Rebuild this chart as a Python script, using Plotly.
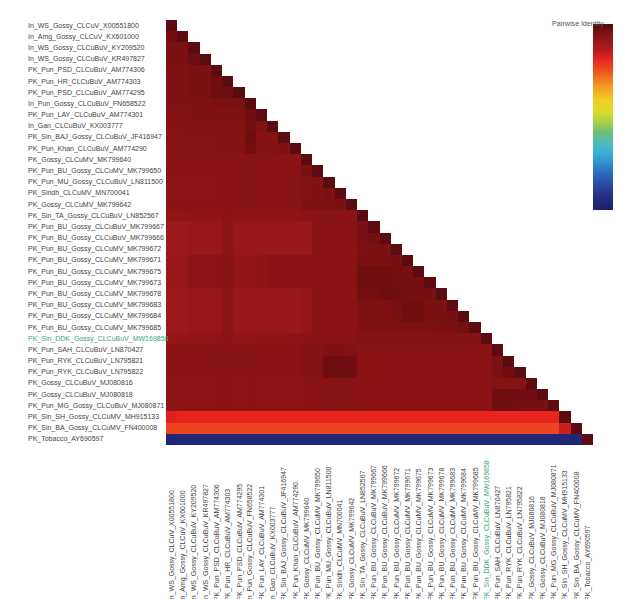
import plotly.graph_objects as go

# ---- labels (rows top->bottom, columns left->right) ----
seq_names = [
    "In_WS_Gossy_CLCuV_X00551800",
    "In_Amg_Gossy_CLCuV_KX601000",
    "In_WS_Gossy_CLCuBuV_KY209520",
    "In_WS_Gossy_CLCuBuV_KR497827",
    "PK_Pun_PSD_CLCuBuV_AM774306",
    "PK_Pun_HR_CLCuBuV_AM774303",
    "PK_Pun_PSD_CLCuBuV_AM774295",
    "In_Pun_Gossy_CLCuBuV_FN658522",
    "PK_Pun_LAY_CLCuBuV_AM774301",
    "In_Gan_CLCuBuV_KX003777",
    "PK_Sin_BAJ_Gossy_CLCuBuV_JF416947",
    "PK_Pun_Khan_CLCuBuV_AM774290",
    "PK_Gossy_CLCuMV_MK799640",
    "PK_Pun_BU_Gossy_CLCuMV_MK799650",
    "PK_Pun_MU_Gossy_CLCuBuV_LN811500",
    "PK_Sindh_CLCuMV_MN700041",
    "PK_Gossy_CLCuMV_MK799642",
    "PK_Sin_TA_Gossy_CLCuBuV_LN852567",
    "PK_Pun_BU_Gossy_CLCuBuV_MK799667",
    "PK_Pun_BU_Gossy_CLCuBuV_MK799666",
    "PK_Pun_BU_Gossy_CLCuMV_MK799672",
    "PK_Pun_BU_Gossy_CLCuMV_MK799671",
    "PK_Pun_BU_Gossy_CLCuMV_MK799675",
    "PK_Pun_BU_Gossy_CLCuMV_MK799673",
    "PK_Pun_BU_Gossy_CLCuMV_MK799678",
    "PK_Pun_BU_Gossy_CLCuMV_MK799683",
    "PK_Pun_BU_Gossy_CLCuMV_MK799684",
    "PK_Pun_BU_Gossy_CLCuMV_MK799685",
    "PK_Sin_DDK_Gossy_CLCuBuV_MW169858",
    "PK_Pun_SAH_CLCuBuV_LN870427",
    "PK_Pun_RYK_CLCuBuV_LN795821",
    "PK_Pun_RYK_CLCuBuV_LN795822",
    "PK_Gossy_CLCuBuV_MJ080816",
    "PK_Gossy_CLCuBuV_MJ080818",
    "PK_Pun_MG_Gossy_CLCuBuV_MJ080871",
    "PK_Sin_SH_Gossy_CLCuMV_MH915133",
    "PK_Sin_BA_Gossy_CLCuMV_FN400008",
    "PK_Tobacco_AY690597",
]
highlight_name = "PK_Sin_DDK_Gossy_CLCuBuV_MW169858"

colorbar_title = "Pairwise identity"
colorbar_ticks = [50, 55, 60, 65, 70, 75, 80, 85, 90, 95, 100]

# ---- pairwise identity (%), lower triangle, row i has i+1 values ----
r0 = [100]
r1 = [99.5, 100]
r2 = [98.5, 98.5, 100]
r3 = [98.5, 98.5, 99.5, 100]
r4 = [98.0, 98.0, 98.5, 98.5, 100]
r5 = [98.0, 98.0, 98.5, 98.5, 99.5, 100]
r6 = [98.0, 98.0, 98.5, 98.5, 99.5, 99.5, 100]
r7 = [98.0, 98.0, 98.0, 98.0, 98.5, 98.5, 98.5, 100]
r8 = [97.8, 97.8, 98.0, 98.0, 98.0, 98.0, 98.0, 99.5, 100]
r9 = [97.6, 97.6, 97.8, 97.8, 97.8, 97.8, 97.8, 99.0, 98.0, 100]
r10 = [97.4, 97.4, 97.5, 97.5, 97.6, 97.6, 97.6, 99.3, 97.6, 97.6, 100]
r11 = [97.3, 97.3, 97.4, 97.4, 97.5, 97.5, 97.5, 99.0, 97.5, 97.5, 98.0, 100]
r12 = [97.2, 97.2, 97.2, 97.3, 97.2, 97.2, 97.2, 97.4, 97.2, 97.2, 97.2, 97.2, 100]
r13 = [97.2, 97.2, 97.2, 97.3, 97.2, 97.2, 97.2, 97.4, 97.2, 97.2, 97.2, 97.2, 98.5, 100]
r14 = [97.0, 97.0, 97.1, 97.1, 97.2, 97.2, 97.2, 97.3, 97.2, 97.2, 97.2, 97.2, 97.8, 98.0, 100]
r15 = [97.0, 97.0, 97.1, 97.1, 97.2, 97.2, 97.2, 97.3, 97.2, 97.2, 97.2, 97.2, 97.8, 98.0, 98.5, 100]
r16 = [97.2, 97.2, 97.2, 97.2, 97.2, 97.2, 97.2, 97.3, 97.2, 97.2, 97.2, 97.2, 98.0, 98.2, 98.2, 98.5, 100]
r17 = [96.6, 96.6, 96.8, 96.8, 96.8, 97.2, 96.8, 96.8, 96.8, 96.8, 96.8, 96.8,
       97.2, 97.2, 97.2, 97.2, 97.2, 100]
r18 = [95.6, 95.6, 95.8, 95.8, 96.0, 97.0, 95.8, 95.8, 95.8, 95.8, 95.8, 96.0,
       96.0, 97.2, 97.2, 97.2, 97.2, 98.5, 100]
r19 = [95.6, 95.6, 95.8, 95.8, 96.0, 97.0, 95.8, 95.8, 95.8, 95.8, 95.8, 96.0,
       96.0, 97.2, 97.2, 97.2, 97.2, 98.5, 99.0, 100]
r20 = [95.6, 95.6, 95.8, 95.8, 96.0, 97.0, 95.8, 95.8, 95.8, 95.8, 95.8, 96.0,
       96.0, 97.2, 97.2, 97.2, 97.2, 98.2, 98.5, 98.5, 100]
r21 = [95.8, 96.0, 97.0, 97.0, 97.2, 97.2, 96.5, 96.5, 96.8, 97.2, 97.2, 97.2,
       97.2, 97.2, 97.2, 97.2, 97.2, 98.5, 98.5, 98.5, 98.8, 100]
r22 = [95.8, 96.0, 97.0, 97.0, 97.2, 97.2, 96.5, 96.5, 96.8, 97.2, 97.2, 97.2,
       97.2, 97.2, 97.2, 97.2, 97.2, 99.3, 99.3, 99.3, 99.0, 98.8, 100]
r23 = [95.8, 96.0, 97.0, 97.0, 97.2, 97.2, 96.5, 96.5, 96.8, 97.2, 97.2, 97.2,
       97.2, 97.2, 97.2, 97.2, 97.2, 99.3, 99.3, 99.3, 99.0, 99.0, 98.8, 100]
r24 = [95.6, 95.6, 95.8, 95.8, 96.0, 97.0, 95.8, 95.8, 95.8, 95.8, 95.8, 96.0,
       96.2, 97.2, 97.2, 97.2, 97.2, 99.0, 99.0, 99.3, 99.3, 99.0, 98.8, 98.8, 100]
r25 = [95.6, 95.6, 95.8, 95.8, 96.0, 97.0, 95.8, 95.8, 95.8, 95.8, 95.8, 96.0,
       96.2, 97.2, 97.2, 97.2, 97.2, 98.2, 98.2, 98.2, 98.8, 99.3, 99.3, 98.5, 98.5, 100]
r26 = [95.6, 95.6, 95.8, 95.8, 96.0, 97.0, 95.8, 95.8, 95.8, 95.8, 95.8, 96.0,
       96.2, 97.2, 97.2, 97.2, 97.2, 98.0, 98.0, 98.0, 98.5, 99.3, 99.3, 98.5, 98.5, 98.8, 100]
r27 = [95.6, 95.6, 95.8, 95.8, 96.0, 97.0, 95.8, 95.8, 95.8, 95.8, 95.8, 96.0,
       96.2, 97.2, 97.2, 97.2, 97.2, 98.0, 98.0, 98.0, 98.2, 98.2, 98.2, 98.2, 98.5, 98.5, 99.0, 100]
r28 = [96.5, 96.5, 96.6, 96.6, 96.8, 97.2, 96.6, 96.6, 96.8, 96.8, 96.8, 97.0,
       97.2, 97.2, 97.2, 97.2, 97.2,
       97.5, 97.5, 97.5, 97.5, 97.5, 97.5, 97.5, 97.5, 97.5, 97.5, 97.5, 100]
r29 = [97.2, 97.2, 97.2, 97.2, 97.4, 97.4, 97.2, 97.3, 97.2, 97.2, 97.2, 97.2, 97.5, 97.5,
       98.0, 98.0, 97.8,
       97.2, 97.2, 97.2, 97.2, 97.2, 97.2, 97.2, 97.2, 97.2, 97.2, 97.2, 97.2, 100]
r30 = [97.2, 97.2, 97.2, 97.2, 97.4, 97.4, 97.2, 97.3, 97.2, 97.2, 97.2, 97.2, 97.5, 97.5,
       99.4, 99.4, 99.2,
       97.2, 97.2, 97.2, 97.2, 97.2, 97.2, 97.2, 97.2, 97.2, 97.2, 97.2, 97.2, 98.5, 100]
r31 = [97.2, 97.2, 97.2, 97.2, 97.4, 97.4, 97.2, 97.3, 97.2, 97.2, 97.2, 97.2, 97.5, 97.5,
       99.4, 99.4, 99.2,
       97.2, 97.2, 97.2, 97.2, 97.2, 97.2, 97.2, 97.2, 97.2, 97.2, 97.2, 97.2, 98.5, 99.5, 100]
r32 = [97.0, 97.0, 97.1, 97.1, 97.2, 97.2, 97.1, 97.2, 97.1, 97.1, 97.1, 97.1,
       97.2, 97.2, 97.4, 97.4, 97.3,
       97.2, 97.2, 97.2, 97.2, 97.2, 97.2, 97.2, 97.2, 97.2, 97.2, 97.2, 97.2,
       97.6, 97.6, 97.6, 100]
r33 = [97.0, 97.0, 97.1, 97.1, 97.2, 97.2, 97.1, 97.2, 97.1, 97.1, 97.1, 97.1,
       97.2, 97.2, 97.4, 97.4, 97.3,
       97.2, 97.2, 97.2, 97.2, 97.2, 97.2, 97.2, 97.2, 97.2, 97.2, 97.2, 97.2,
       99.3, 99.3, 99.3, 99.5, 100]
r34 = [97.0, 97.0, 97.1, 97.1, 97.2, 97.2, 97.1, 97.2, 97.1, 97.1, 97.1, 97.1,
       97.2, 97.2, 97.4, 97.4, 97.3,
       97.2, 97.2, 97.2, 97.2, 97.2, 97.2, 97.2, 97.2, 97.2, 97.2, 97.2, 97.2,
       99.3, 99.3, 99.0, 98.8, 98.8, 100]
r35 = [91.0,
       90.5, 90.5, 90.5, 90.5, 90.5, 90.5, 90.5, 90.5, 90.5, 90.5,
       90.5, 90.5, 90.5, 90.5, 90.5, 90.5, 90.5, 90.5, 90.5, 90.5,
       90.5, 90.5, 90.5, 90.5, 90.5, 90.5, 90.5, 90.5, 90.5, 90.5,
       90.5, 90.5, 90.5, 90.5,
       100]
r36 = [88.2,
       88.0, 88.0, 88.0, 88.0, 88.0, 88.0, 88.0, 88.0, 88.0, 88.0,
       88.0, 88.0, 88.0, 88.0, 88.0, 88.0, 88.0, 88.0, 88.0, 88.0,
       88.0, 88.0, 88.0, 88.0, 88.0, 88.0, 88.0, 88.0, 88.0, 88.0,
       88.0, 88.0, 88.0, 88.0,
       91.8, 100]
r37 = [48.0, 48.0, 48.0, 48.0, 48.0, 48.0, 48.0, 48.0, 48.0, 48.0,
       48.0, 48.0, 48.0, 48.0, 48.0, 48.0, 48.0, 48.0, 48.0, 48.0,
       48.0, 48.0, 48.0, 48.0, 48.0, 48.0, 48.0, 48.0, 48.0, 48.0,
       48.0, 48.0, 48.0, 48.0, 48.0, 48.0, 48.0,
       100]

identity_rows = [r0, r1, r2, r3, r4, r5, r6, r7, r8, r9, r10, r11, r12, r13, r14, r15,
                 r16, r17, r18, r19, r20, r21, r22, r23, r24, r25, r26, r27, r28, r29,
                 r30, r31, r32, r33, r34, r35, r36, r37]

# ---- style ----
ZMIN, ZMAX = 46.0, 101.0
scale_stops = [
    (46.0, "#1c2068"), (50.0, "#232e86"), (54.0, "#2a4ea8"), (57.0, "#2c6cc0"),
    (60.0, "#2f92d2"), (63.0, "#3ab0d8"), (66.0, "#52bcb4"), (69.0, "#6ebf78"),
    (72.0, "#a8d044"), (75.0, "#d8dc28"), (78.5, "#f0d020"), (81.5, "#f4a820"),
    (84.5, "#f27a20"), (87.5, "#ee4c1f"), (90.5, "#e8241f"), (93.0, "#b81a1c"),
    (95.5, "#9e1818"), (97.2, "#8a1414"), (99.5, "#6e0e12"), (100.0, "#5c0b10"),
    (101.0, "#520a0e"),
]
colorscale = [[(v - ZMIN) / (ZMAX - ZMIN), c] for v, c in scale_stops]

W, H = 621, 599
L, R, T, B = 158, 0, 12, 162
plot_w = W - L - R
plot_h = H - T - B
FONT = "Liberation Sans, Arial, sans-serif"
LABEL_SIZE = 7.0
n = len(seq_names)

z = [row + [None] * (n - len(row)) for row in identity_rows]
idx = list(range(n))

fig = go.Figure(go.Heatmap(
    z=z, x=idx, y=idx,
    zmin=ZMIN, zmax=ZMAX,
    colorscale=colorscale,
    hoverongaps=False,
    colorbar=dict(
        thickness=23, thicknessmode="pixels",
        len=186, lenmode="pixels",
        xref="container", x=585 / W, xanchor="left",
        yref="container", y=1 - 22 / H, yanchor="top",
        xpad=0, ypad=0, outlinewidth=0,
        ticks="outside", ticklen=3, tickwidth=1, tickcolor="#777",
        tickvals=colorbar_ticks,
        tickfont=dict(size=7, color="#555", family=FONT),
    ),
))

annotations = [dict(
    text=colorbar_title, xref="paper", x=(574 - L) / plot_w, xanchor="left",
    yref="paper", y=1 + (T - 15) / plot_h, yanchor="middle", showarrow=False,
    font=dict(size=7.2, color="#555", family=FONT),
)]
for i, name in enumerate(seq_names):
    col = "#3aa57a" if name == highlight_name else "#444444"
    annotations.append(dict(
        text=name, xref="paper", x=-(L - 6) / plot_w, xanchor="left",
        yref="y", y=i, yanchor="middle", showarrow=False,
        font=dict(size=LABEL_SIZE, color=col, family=FONT),
    ))
    annotations.append(dict(
        text=name, xref="x", x=i, xanchor="center",
        yref="paper", y=-(595 - (T + plot_h)) / plot_h, yanchor="bottom",
        textangle=-90, showarrow=False,
        font=dict(size=LABEL_SIZE, color=col, family=FONT),
    ))

fig.update_layout(
    width=W, height=H,
    margin=dict(l=L, r=R, t=T, b=B, pad=0),
    paper_bgcolor="white", plot_bgcolor="white",
    xaxis=dict(range=[-0.5, n - 0.5], visible=False, fixedrange=True),
    yaxis=dict(range=[n - 0.5, -0.5], visible=False, fixedrange=True),
    annotations=annotations,
    font=dict(family=FONT),
)

fig.write_html("out.html")
